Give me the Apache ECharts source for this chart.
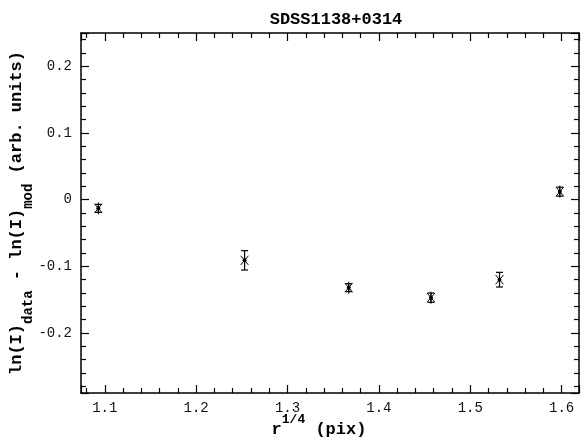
<!DOCTYPE html>
<html>
<head>
<meta charset="utf-8">
<script src="https://cdn.jsdelivr.net/npm/echarts@6/dist/echarts.min.js"></script>
<style>
  html, body { margin: 0; padding: 0; background: #fff; }
  #chart { width: 587px; height: 441px; }
</style>
</head>
<body>
<div id="chart"></div>
<script>
// radius^(1/4) in pix, residual and its error
var xVals = [1.093, 1.253, 1.367, 1.457, 1.532, 1.598];
var yVals = [-0.013, -0.091, -0.132, -0.147, -0.120, 0.012];
var yErr  = [0.006, 0.0145, 0.006, 0.007, 0.011, 0.0068];

var xRange = [1.074, 1.619];
var yRange = [-0.29, 0.25];

var titleText = 'SDSS1138+0314';
var mono = 'Liberation Mono';

var points = xVals.map(function (x, i) { return [x, yVals[i], yErr[i]]; });

var chart = echarts.init(document.getElementById('chart'));

function frameAxis(pos, isX, showLabel) {
  var ax = {
    type: 'value',
    position: pos,
    min: isX ? xRange[0] : yRange[0],
    max: isX ? xRange[1] : yRange[1],
    scale: true,
    axisLine: { show: true, onZero: false, lineStyle: { color: '#000', width: 1.5 } },
    axisTick: { show: true, inside: true, length: 8, lineStyle: { color: '#000', width: 1.2 } },
    minorTick: { show: true, splitNumber: 5, length: 5, lineStyle: { color: '#000', width: 1.2 } },
    splitLine: { show: false },
    axisLabel: {
      show: showLabel,
      showMinLabel: false,
      showMaxLabel: false,
      color: '#111',
      fontFamily: mono,
      fontSize: 14,
      margin: isX ? 8 : 9
    }
  };
  return ax;
}

var xMain = frameAxis('bottom', true, true);
xMain.name = '{m|r}{sup|1/4}{m| (pix)}';
xMain.nameLocation = 'middle';
xMain.nameMoveOverlap = false;
xMain.nameGap = 20;
xMain.nameTextStyle = {
  padding: [0, 22, 0, 0],
  rich: {
    m: { fontFamily: mono, fontWeight: 'bold', fontSize: 17, color: '#000', verticalAlign: 'bottom', padding: [8, 0, 0, 0] },
    sup: { fontFamily: mono, fontWeight: 'bold', fontSize: 13, color: '#000', verticalAlign: 'top' }
  }
};

var yMain = frameAxis('left', false, true);
yMain.name = '{m|ln(I)}{s|data}{m| - ln(I)}{s|mod}{m| (arb. units)}';
yMain.nameLocation = 'middle';
yMain.nameMoveOverlap = false;
yMain.nameRotate = 90;
yMain.nameGap = 46;
yMain.nameTextStyle = {
  rich: {
    m: { fontFamily: mono, fontWeight: 'bold', fontSize: 17, color: '#000', verticalAlign: 'top' },
    s: { fontFamily: mono, fontWeight: 'bold', fontSize: 14, color: '#000', verticalAlign: 'bottom', padding: [13, 0, 0, 0] }
  }
};

var option = {
  backgroundColor: '#fff',
  animation: false,
  title: {
    text: titleText,
    left: 331,
    top: 6,
    textAlign: 'center',
    textStyle: { fontFamily: mono, fontWeight: 'bold', fontSize: 17, color: '#000' }
  },
  grid: { left: 81, right: 8, top: 33, bottom: 48, containLabel: false, outerBoundsMode: 'none' },
  xAxis: [xMain, frameAxis('top', true, false)],
  yAxis: [yMain, frameAxis('right', false, false)],
  series: [{
    type: 'custom',
    xAxisIndex: 0,
    yAxisIndex: 0,
    data: points,
    renderItem: function (params, api) {
      var x = api.value(0), y = api.value(1), e = api.value(2);
      var c = api.coord([x, y]);
      var hi = api.coord([x, y + e]);
      var lo = api.coord([x, y - e]);
      var st = { stroke: '#000', lineWidth: 1.2 };
      var cw = 3.5, r = 6, a = 50 * Math.PI / 180;
      var dx = r * Math.cos(a), dy = r * Math.sin(a);
      var kids = [
        { type: 'line', shape: { x1: c[0], y1: hi[1], x2: c[0], y2: lo[1] }, style: st },
        { type: 'line', shape: { x1: c[0] - cw, y1: hi[1], x2: c[0] + cw, y2: hi[1] }, style: st },
        { type: 'line', shape: { x1: c[0] - cw, y1: lo[1], x2: c[0] + cw, y2: lo[1] }, style: st },
        { type: 'line', shape: { x1: c[0], y1: c[1] - r, x2: c[0], y2: c[1] + r }, style: { stroke: '#000', lineWidth: 1 } },
        { type: 'line', shape: { x1: c[0] - dx, y1: c[1] - dy, x2: c[0] + dx, y2: c[1] + dy }, style: { stroke: '#000', lineWidth: 1 } },
        { type: 'line', shape: { x1: c[0] - dx, y1: c[1] + dy, x2: c[0] + dx, y2: c[1] - dy }, style: { stroke: '#000', lineWidth: 1 } },
        { type: 'circle', shape: { cx: c[0], cy: c[1], r: 2 }, style: { fill: '#000' } }
      ];
      return { type: 'group', children: kids };
    }
  }]
};

chart.setOption(option);
</script>
</body>
</html>
